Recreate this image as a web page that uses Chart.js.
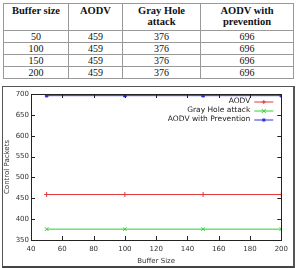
<!DOCTYPE html>
<html><head><meta charset="utf-8">
<script src="https://cdn.jsdelivr.net/npm/chart.js@4/dist/chart.umd.min.js"></script>
<style>
html,body{margin:0;padding:0;background:#fff;width:297px;height:268px;overflow:hidden;}
#tbl{position:absolute;left:3px;top:3px;width:290px;table-layout:fixed;border-collapse:collapse;font-family:"Liberation Serif",serif;font-size:10px;color:#111;}
#tbl td,#tbl th{border:1px solid #999;padding:0;text-align:center;line-height:11px;}
#tbl th{font-weight:bold;height:25px;vertical-align:top;padding-top:1px;font-size:10.5px;}
#tbl td{height:11px;}
#wrap{position:absolute;left:2px;top:86px;width:290px;height:179px;border:1px solid #555;border-bottom:2px solid #444;border-right:2px solid #555;}
canvas{display:block;}
</style></head><body>
<table id="tbl"></table>
<div id="wrap"><canvas id="c" width="290" height="179"></canvas></div>
<script>
const headers = ["Buffer size","AODV","Gray Hole<br>attack","AODV with<br>prevention"];
const bufferSizes = [50,100,150,200];
const aodv = [459,459,459,459];
const grayHole = [376,376,376,376];
const prevention = [696,696,696,696];
const xTicks = [40,60,80,100,120,140,160,180,200];
const yTicks = [350,400,450,500,550,600,650,700];
const seriesLabels = ["AODV","Gray Hole attack","AODV with Prevention"];

// table
const colW=[65,54,78,93];
const tbl=document.getElementById('tbl');
let h='<colgroup>'+colW.map(w=>'<col style="width:'+w+'px">').join('')+'</colgroup>';
h+='<tr>'+headers.map(t=>'<th>'+t+'</th>').join('')+'</tr>';
bufferSizes.forEach((b,i)=>{h+='<tr><td>'+b+'</td><td>'+aodv[i]+'</td><td>'+grayHole[i]+'</td><td>'+prevention[i]+'</td></tr>';});
tbl.innerHTML=h;

const tickFont={family:"DejaVu Sans",size:7};
const noGrid={display:false,drawTicks:false,tickLength:0};
const frame={id:'frame',afterDraw(ch){
  const c=ch.ctx,a=ch.chartArea,xs=ch.scales.x,ys=ch.scales.y;
  c.save();c.strokeStyle='#222';c.lineWidth=1;
  c.strokeRect(Math.round(a.left)+0.5,Math.round(a.top)+0.5,Math.round(a.right-a.left),Math.round(a.bottom-a.top));
  c.beginPath();
  xTicks.forEach(v=>{const x=Math.round(xs.getPixelForValue(v))+0.5;c.moveTo(x,a.bottom);c.lineTo(x,a.bottom-4);c.moveTo(x,a.top);c.lineTo(x,a.top+4);});
  yTicks.forEach(v=>{const y=Math.round(ys.getPixelForValue(v))+0.5;c.moveTo(a.left,y);c.lineTo(a.left+4,y);c.moveTo(a.right,y);c.lineTo(a.right-4,y);});
  c.stroke();
  // legend
  c.font='7.5px "DejaVu Sans"';c.textAlign='right';c.textBaseline='middle';
  ch.data.datasets.forEach((d,i)=>{
    const y=a.top+7.5+i*9, tx=a.right-31;
    c.fillStyle='#222';c.fillText(d.label,tx,y);
    c.strokeStyle=d.borderColor;c.lineWidth=1;
    c.beginPath();c.moveTo(tx+4,y+0.5);c.lineTo(tx+23,y+0.5);c.stroke();
    const mx=tx+13.5,my=y+0.5;
    c.beginPath();
    if(d.pointStyle==='cross'){c.moveTo(mx-2,my);c.lineTo(mx+2,my);c.moveTo(mx,my-2);c.lineTo(mx,my+2);c.stroke();}
    else if(d.pointStyle==='crossRot'){c.moveTo(mx-2,my-2);c.lineTo(mx+2,my+2);c.moveTo(mx-2,my+2);c.lineTo(mx+2,my-2);c.stroke();}
    else {c.fillStyle=d.borderColor;c.fillRect(mx-1.5,my-1.5,3,3);}
  });
  c.restore();
}};
new Chart(document.getElementById('c'),{
  type:'line',
  data:{datasets:[
    {label:seriesLabels[0],data:bufferSizes.map((b,i)=>({x:b,y:aodv[i]})),borderColor:'#e0383c',backgroundColor:'#e0383c',pointStyle:'cross',pointRadius:2.5,borderWidth:1,pointBorderWidth:1},
    {label:seriesLabels[1],data:bufferSizes.map((b,i)=>({x:b,y:grayHole[i]})),borderColor:'#30d030',backgroundColor:'#30d030',pointStyle:'crossRot',pointRadius:2.5,borderWidth:1,pointBorderWidth:1},
    {label:seriesLabels[2],data:bufferSizes.map((b,i)=>({x:b,y:prevention[i]})),borderColor:'#3030d8',backgroundColor:'#3030d8',pointStyle:'rect',pointRadius:1.8,borderWidth:1,pointBorderWidth:1}
  ]},
  options:{responsive:false,animation:false,
    layout:{padding:{top:7,right:6,left:0,bottom:0}},
    plugins:{legend:{display:false},tooltip:{enabled:false}},
    scales:{
      x:{type:'linear',min:40,max:200,afterBuildTicks:s=>{s.ticks=xTicks.map(v=>({value:v}));},
        grid:noGrid,border:{display:false},
        ticks:{font:tickFont,color:'#333',padding:5,maxRotation:0,autoSkip:false},
        title:{display:true,text:'Buffer Size',font:{family:"DejaVu Sans",size:7},color:'#333',padding:{top:3,bottom:1}},
        afterFit:s=>{s.height=26;}},
      y:{type:'linear',min:350,max:700,afterBuildTicks:s=>{s.ticks=yTicks.map(v=>({value:v}));},
        grid:noGrid,border:{display:false},
        ticks:{font:tickFont,color:'#333',padding:2,autoSkip:false},
        title:{display:true,text:'Control Packets',font:{family:"DejaVu Sans",size:7},color:'#333',padding:{top:0,bottom:1}},
        afterFit:s=>{s.width=28;}}
    }},
  plugins:[frame]
});
</script></body></html>
